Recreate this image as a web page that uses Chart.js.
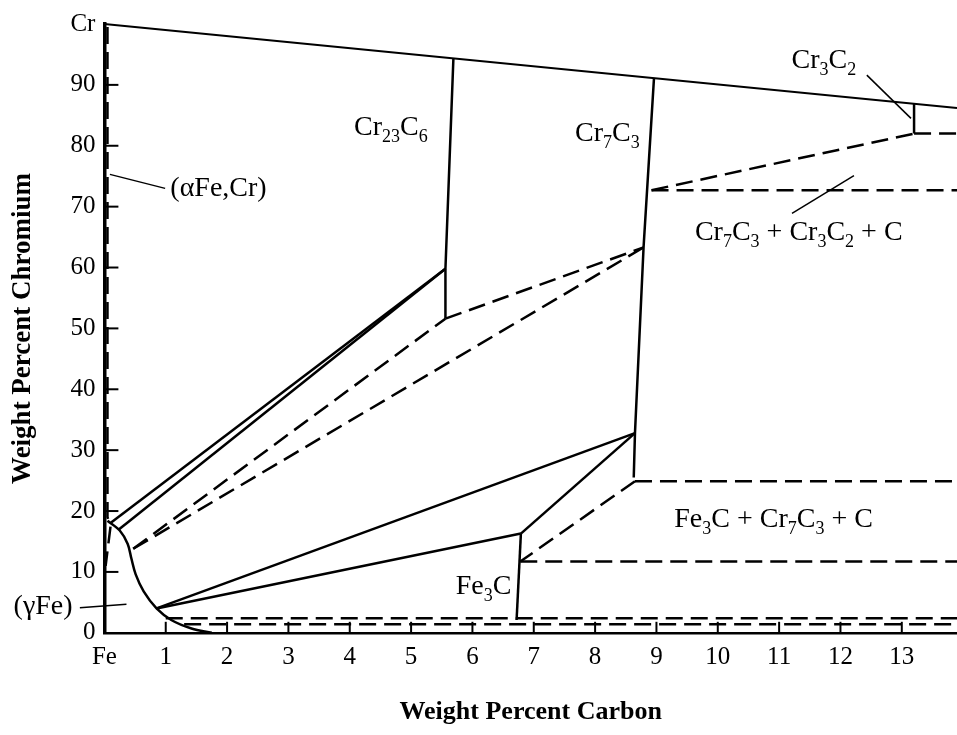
<!DOCTYPE html>
<html>
<head>
<meta charset="UTF-8">
<title>Fe-Cr-C isothermal section</title>
<script src="https://cdn.jsdelivr.net/npm/chart.js"></script>
<style>
  body { margin: 0; background: #fff; }
  #wrap { width: 957px; height: 735px; }
</style>
</head>
<body>
<div id="wrap"><canvas id="chart" width="957" height="735"></canvas></div>
<script>
// axis ticks
const xTickValues = [0, 1, 2, 3, 4, 5, 6, 7, 8, 9, 10, 11, 12, 13];
const xTickLabels = ['Fe', '1', '2', '3', '4', '5', '6', '7', '8', '9', '10', '11', '12', '13'];
const yTickValues = [0, 10, 20, 30, 40, 50, 60, 70, 80, 90, 100];
const yTickLabels = ['0', '10', '20', '30', '40', '50', '60', '70', '80', '90', 'Cr'];

// solid boundaries [wt% C, wt% Cr]
const crEdge    = [[0, 100], [13.9, 86.2]];
const cr23c6    = [[5.69, 94.4], [5.56, 59.8], [5.56, 51.6]];
const cr7c3     = [[8.96, 91.1], [8.79, 63.3], [8.65, 32.8], [8.63, 25.5]];
const cr3c2     = [[13.2, 86.9], [13.2, 82.0]];
const fe3c      = [[6.79, 16.3], [6.72, 2.1]];
const gammaEdge = [[0.05, 18.4], [0.25, 16.8], [0.38, 14.6], [0.44, 12.2], [0.51, 9.6],
                   [0.64, 6.8], [0.85, 4.0], [1.09, 2.1], [1.42, 0.7], [1.75, 0]];
const tieA = [[0.11, 18.1], [5.56, 59.8]];
const tieB = [[0.24, 17.0], [5.56, 59.8]];
const tieC = [[0.85, 4.0], [8.65, 32.8]];
const tieD = [[0.85, 4.0], [6.79, 16.3]];
const tieE = [[6.79, 16.3], [8.65, 32.8]];

// dashed boundaries
const alphaEdge = [[0.05, 99.5], [0.05, 19], [0.1, 17.5], [0.02, 11]];
const dashA = [[0.47, 13.8], [5.56, 51.6]];
const dashB = [[0.47, 13.8], [8.79, 63.3]];
const dashC = [[5.56, 51.6], [8.79, 63.3]];
const dashD = [[8.92, 72.7], [13.2, 82.0]];
const dashE = [[13.2, 82.0], [13.9, 82.0]];
const dashF = [[8.92, 72.7], [13.9, 72.7]];
const dashG = [[8.65, 24.9], [13.9, 24.9]];
const dashH = [[8.65, 24.9], [6.78, 11.7]];
const dashI = [[6.78, 11.7], [13.9, 11.7]];
const dashJ = [[1.0, 2.4], [13.9, 2.4]];
const dashK = [[1.3, 1.4], [13.9, 1.4]];

// leader lines
const leaders = [
  [[0.09, 75.3], [0.99, 73.0]],
  [[-0.40, 4.1], [0.36, 4.7]],
  [[12.43, 91.6], [13.15, 84.5]],
  [[11.21, 68.9], [12.22, 75.1]]
];

// phase labels (text, x, y)
const labelText = ['Cr_{23}C_{6}', 'Cr_{7}C_{3}', 'Cr_{3}C_{2}', 'Cr_{7}C_{3} + Cr_{3}C_{2} + C',
                   'Fe_{3}C + Cr_{7}C_{3} + C', 'Fe_{3}C', '(αFe,Cr)', '(γFe)'];
const labelX = [4.67, 8.2, 11.73, 11.32, 10.91, 6.18, 1.86, -1.0];
const labelY = [82.9, 82.0, 94.0, 65.7, 18.6, 7.6, 72.9, 4.3];

const FONT = '"Liberation Serif", "DejaVu Serif", serif';

function seg(pts, dashed, width, tension) {
  return {
    data: pts.map(p => ({ x: p[0], y: p[1] })),
    showLine: true,
    borderColor: '#000',
    borderWidth: width || 2.5,
    borderDash: dashed ? [17, 8] : [],
    pointRadius: 0,
    clip: false,
    tension: tension || 0
  };
}

const datasets = [
  seg(crEdge, false, 2),
  seg(cr23c6), seg(cr7c3), seg(cr3c2), seg(fe3c), seg(gammaEdge, false, 2.5, 0.35),
  seg(tieA), seg(tieB), seg(tieC), seg(tieD), seg(tieE),
  seg(alphaEdge, true),
  seg(dashA, true), seg(dashB, true), seg(dashC, true), seg(dashD, true),
  seg(dashE, true), seg(dashF, true), seg(dashG, true), seg(dashH, true),
  seg(dashI, true), seg(dashJ, true), seg(dashK, true)
];
leaders.forEach(l => datasets.push(seg(l, false, 1.5)));

// formula text with subscripts: "Cr_{23}C_{6}"
function drawFormula(ctx, str, px, py, size) {
  const parts = str.split(/(_\{[^}]*\})/).filter(s => s);
  const main = size + 'px ' + FONT;
  const sub = Math.round(size * 0.66) + 'px ' + FONT;
  let w = 0;
  parts.forEach(p => {
    const s = p.startsWith('_{');
    ctx.font = s ? sub : main;
    w += ctx.measureText(s ? p.slice(2, -1) : p).width;
  });
  let x = px - w / 2;
  ctx.textAlign = 'left';
  ctx.textBaseline = 'middle';
  parts.forEach(p => {
    const s = p.startsWith('_{');
    const t = s ? p.slice(2, -1) : p;
    ctx.font = s ? sub : main;
    ctx.fillText(t, x, s ? py + size * 0.33 : py);
    x += ctx.measureText(t).width;
  });
}

const extras = {
  id: 'extras',
  afterDatasetsDraw(chart) {
    const ctx = chart.ctx;
    const xs = chart.scales.x, ys = chart.scales.y;
    ctx.save();
    ctx.strokeStyle = '#000';
    ctx.lineWidth = 2;
    // inward tick marks
    xTickValues.slice(1).forEach(v => {
      const px = xs.getPixelForValue(v);
      ctx.beginPath();
      ctx.moveTo(px, ys.bottom);
      ctx.lineTo(px, ys.bottom - 11);
      ctx.stroke();
    });
    yTickValues.slice(1, -1).forEach(v => {
      const py = ys.getPixelForValue(v);
      ctx.beginPath();
      ctx.moveTo(xs.left, py);
      ctx.lineTo(xs.left + 14, py);
      ctx.stroke();
    });
    ctx.fillStyle = '#000';
    labelText.forEach((t, i) => {
      drawFormula(ctx, t, xs.getPixelForValue(labelX[i]), ys.getPixelForValue(labelY[i]), 28);
    });
    ctx.restore();
  }
};

new Chart(document.getElementById('chart'), {
  type: 'scatter',
  data: { datasets },
  options: {
    responsive: false,
    animation: false,
    layout: { padding: { top: 24, right: 0, bottom: 0, left: 0 } },
    plugins: { legend: { display: false }, tooltip: { enabled: false } },
    scales: {
      x: {
        type: 'linear',
        min: 0,
        max: 13.9,
        afterBuildTicks: s => { s.ticks = xTickValues.map(v => ({ value: v })); },
        ticks: {
          color: '#000',
          padding: 10,
          font: { family: FONT, size: 25 },
          callback: (v) => xTickLabels[xTickValues.indexOf(v)]
        },
        grid: { display: false, drawTicks: false },
        border: { display: true, color: '#000', width: 2.5 },
        title: {
          display: true,
          text: 'Weight Percent Carbon',
          color: '#000',
          font: { family: FONT, size: 26, weight: 'bold' },
          padding: { top: 14, bottom: 7 }
        }
      },
      y: {
        type: 'linear',
        min: 0,
        max: 100,
        afterBuildTicks: s => { s.ticks = yTickValues.map(v => ({ value: v })); },
        ticks: {
          color: '#000',
          padding: 9,
          font: { family: FONT, size: 25 },
          callback: (v) => yTickLabels[yTickValues.indexOf(v)]
        },
        grid: { display: false, drawTicks: false },
        border: { display: true, color: '#000', width: 3.5 },
        title: {
          display: true,
          text: 'Weight Percent Chromium',
          color: '#000',
          font: { family: FONT, size: 27, weight: 'bold' },
          padding: { top: 7, bottom: 22 }
        }
      }
    }
  },
  plugins: [extras]
});
</script>
</body>
</html>
